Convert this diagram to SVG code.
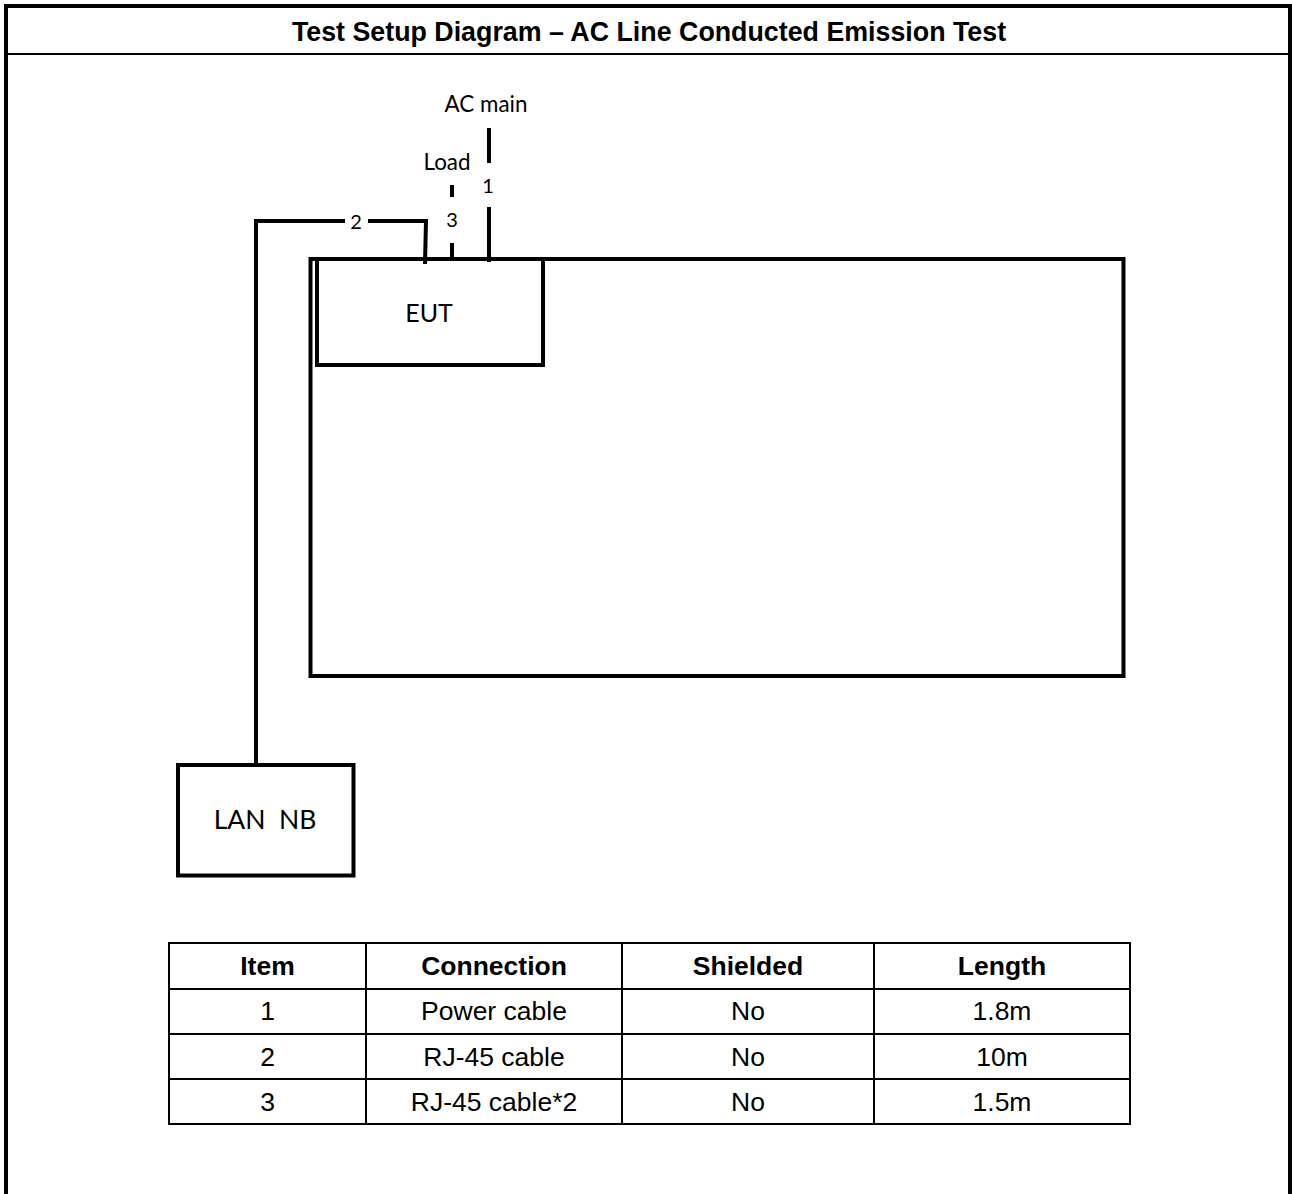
<svg xmlns="http://www.w3.org/2000/svg" width="1292" height="1194" viewBox="0 0 1292 1194">
<style>
.frame{fill:none;stroke:#000;stroke-width:4}
.box{fill:none;stroke:#000;stroke-width:4;stroke-linejoin:miter}
.cable{fill:none;stroke:#000;stroke-width:4}
.tbl{fill:none;stroke:#000;stroke-width:2}
.title{font-family:"Liberation Sans",Arial,sans-serif;font-weight:bold;font-size:26.8px;text-anchor:middle;fill:#000}
.th{font-family:"Liberation Sans",Arial,sans-serif;font-weight:bold;font-size:26.5px;text-anchor:middle;fill:#000}
.td{font-family:"Liberation Sans",Arial,sans-serif;font-size:26.5px;text-anchor:middle;fill:#000}
.lbl{font-family:Lato,"Open Sans",sans-serif;text-anchor:middle;fill:#000}
</style>
<rect width="1292" height="1194" fill="#fff"/>
<g id="frame">
<path class="frame" d="M6,1194 V6 H1290 V1194"/>
<line x1="6" y1="54" x2="1290" y2="54" stroke="#000" stroke-width="2"/>
<text class="title" x="649" y="41">Test Setup Diagram – AC Line Conducted Emission Test</text>
</g>
<g id="table-area">
<rect class="box" x="310.5" y="259" width="813" height="417"/>
</g>
<g id="eut">
<rect class="box" x="317" y="259" width="226" height="106"/>
<text class="lbl" x="429" y="322" font-size="25">EUT</text>
</g>
<g id="lan-nb">
<rect class="box" x="178" y="765" width="175.5" height="110.5"/>
<text class="lbl" x="265" y="829" font-size="26.5" xml:space="preserve">LAN  NB</text>
</g>
<g id="ac-main">
<text class="lbl" x="486" y="112" font-size="22.4">AC main</text>
</g>
<g id="load">
<text class="lbl" x="447" y="170" font-size="22.4">Load</text>
</g>
<g id="connectors">
<path class="cable" d="M256,764 V221 H345"/>
<path class="cable" d="M368,221 H426 L425,264"/>
<text class="lbl" x="356" y="229" font-size="20">2</text>
<line class="cable" x1="452" y1="185" x2="452" y2="197"/>
<line class="cable" x1="452" y1="243" x2="452" y2="258"/>
<text class="lbl" x="452" y="227" font-size="20">3</text>
<line class="cable" x1="489" y1="128" x2="489" y2="163"/>
<line class="cable" x1="489" y1="207" x2="489" y2="262"/>
<text class="lbl" x="488" y="193" font-size="20">1</text>
</g>
<g id="cable-table">
<rect class="tbl" x="169" y="943" width="961" height="181"/>
<line class="tbl" x1="169" y1="989" x2="1130" y2="989"/>
<line class="tbl" x1="169" y1="1034" x2="1130" y2="1034"/>
<line class="tbl" x1="169" y1="1079" x2="1130" y2="1079"/>
<line class="tbl" x1="366" y1="943" x2="366" y2="1124"/>
<line class="tbl" x1="622" y1="943" x2="622" y2="1124"/>
<line class="tbl" x1="874" y1="943" x2="874" y2="1124"/>
<text class="th" x="267.5" y="975">Item</text>
<text class="th" x="494" y="975">Connection</text>
<text class="th" x="748" y="975">Shielded</text>
<text class="th" x="1002" y="975">Length</text>
<text class="td" x="267.5" y="1020">1</text>
<text class="td" x="494" y="1020">Power cable</text>
<text class="td" x="748" y="1020">No</text>
<text class="td" x="1002" y="1020">1.8m</text>
<text class="td" x="267.5" y="1066">2</text>
<text class="td" x="494" y="1066">RJ-45 cable</text>
<text class="td" x="748" y="1066">No</text>
<text class="td" x="1002" y="1066">10m</text>
<text class="td" x="267.5" y="1111">3</text>
<text class="td" x="494" y="1111">RJ-45 cable*2</text>
<text class="td" x="748" y="1111">No</text>
<text class="td" x="1002" y="1111">1.5m</text>
</g>
</svg>
